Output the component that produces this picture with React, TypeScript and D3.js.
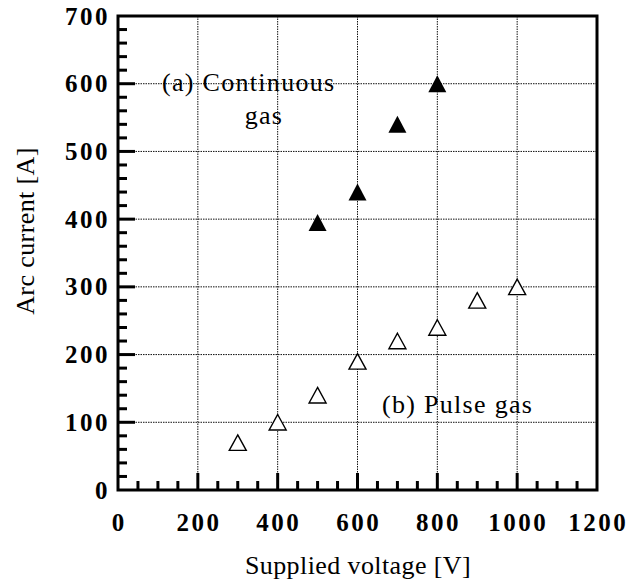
import React, { useEffect, useRef } from 'react';
import * as d3 from 'd3';

const xTicks = [0, 200, 400, 600, 800, 1000, 1200];
const yTicks = [0, 100, 200, 300, 400, 500, 600, 700];

const contVoltage = [500, 600, 700, 800];
const contCurrent = [395, 440, 540, 600];

const pulseVoltage = [300, 400, 500, 600, 700, 800, 900, 1000];
const pulseCurrent = [70, 100, 140, 190, 220, 240, 280, 300];

const App = () => {
  const chartRef = useRef<SVGSVGElement | null>(null);

  useEffect(() => {
    const W = 632;
    const H = 583;
    const margin = { top: 16, right: 35, bottom: 93, left: 118 };
    const width = W - margin.left - margin.right;
    const height = H - margin.top - margin.bottom;
    const font = '"Liberation Serif", "Times New Roman", serif';

    const svg = d3.select(chartRef.current);
    svg.selectAll('*').remove();
    svg.attr('width', W).attr('height', H);

    svg.append('rect').attr('width', W).attr('height', H).attr('fill', '#fff');

    const g = svg.append('g')
      .attr('transform', `translate(${margin.left}, ${margin.top})`);

    const x = d3.scaleLinear().domain([0, 1200]).range([0, width]);
    const y = d3.scaleLinear().domain([0, 700]).range([height, 0]);

    // dotted grid
    g.selectAll('.vgrid')
      .data(xTicks.slice(1, -1))
      .enter()
      .append('line')
      .attr('x1', d => x(d))
      .attr('x2', d => x(d))
      .attr('y1', 0)
      .attr('y2', height)
      .attr('stroke', '#111')
      .attr('stroke-width', 1)
      .attr('stroke-dasharray', '1.5,1');

    g.selectAll('.hgrid')
      .data(yTicks.slice(1, -1))
      .enter()
      .append('line')
      .attr('x1', 0)
      .attr('x2', width)
      .attr('y1', d => y(d))
      .attr('y2', d => y(d))
      .attr('stroke', '#111')
      .attr('stroke-width', 1)
      .attr('stroke-dasharray', '1.5,1');

    // inner ticks, minor every 50 V / 20 A
    const xMinor = d3.range(50, 1200, 50);
    g.selectAll('.xtick')
      .data(xMinor)
      .enter()
      .append('line')
      .attr('x1', d => x(d))
      .attr('x2', d => x(d))
      .attr('y1', height)
      .attr('y2', d => height - (d % 200 === 0 ? 17 : 9))
      .attr('stroke', '#000')
      .attr('stroke-width', 3);

    const yMinor = d3.range(20, 700, 20);
    g.selectAll('.ytick')
      .data(yMinor)
      .enter()
      .append('line')
      .attr('x1', 0)
      .attr('x2', d => (d % 100 === 0 ? 17 : 9))
      .attr('y1', d => y(d))
      .attr('y2', d => y(d))
      .attr('stroke', '#000')
      .attr('stroke-width', 3);

    // frame
    g.append('rect')
      .attr('width', width)
      .attr('height', height)
      .attr('fill', 'none')
      .attr('stroke', '#000')
      .attr('stroke-width', 3);

    // tick labels
    g.selectAll('.xlabel')
      .data(xTicks)
      .enter()
      .append('text')
      .attr('x', d => x(d) + 1.2)
      .attr('y', height + 41)
      .attr('text-anchor', 'middle')
      .attr('font-family', font)
      .attr('font-size', 25)
      .attr('font-weight', 'bold')
      .attr('letter-spacing', 2.5)
      .text(d => d);

    g.selectAll('.ylabel')
      .data(yTicks)
      .enter()
      .append('text')
      .attr('x', -8)
      .attr('y', d => y(d))
      .attr('dy', '0.34em')
      .attr('text-anchor', 'end')
      .attr('font-family', font)
      .attr('font-size', 25)
      .attr('font-weight', 'bold')
      .attr('letter-spacing', 2.5)
      .text(d => d);

    // triangles, bbox centred on the value
    const tri = (w: number, h: number) =>
      `M0,${-h / 2}L${w / 2},${h / 2}L${-w / 2},${h / 2}Z`;

    g.selectAll('.cont')
      .data(contVoltage)
      .enter()
      .append('path')
      .attr('d', tri(18, 17))
      .attr('transform', (d, i) => `translate(${x(d)}, ${y(contCurrent[i])})`)
      .attr('fill', '#000');

    g.selectAll('.pulse')
      .data(pulseVoltage)
      .enter()
      .append('path')
      .attr('d', tri(17, 15.5))
      .attr('transform', (d, i) => `translate(${x(d)}, ${y(pulseCurrent[i])})`)
      .attr('fill', '#fff')
      .attr('stroke', '#000')
      .attr('stroke-width', 1.4)
      .attr('stroke-linejoin', 'miter');

    // annotations
    const note = (tx: number, ty: number, s: string, anchor = 'start') =>
      svg.append('text')
        .attr('x', tx)
        .attr('y', ty)
        .attr('text-anchor', anchor)
        .attr('font-family', font)
        .attr('font-size', 26)
        .attr('letter-spacing', 1.3)
        .attr('fill', '#000')
        .text(s);

    note(162, 91, '(a) Continuous');
    note(264, 124, 'gas', 'middle');
    note(382, 413, '(b) Pulse gas');

    // axis titles
    svg.append('text')
      .attr('x', 358)
      .attr('y', 574)
      .attr('text-anchor', 'middle')
      .attr('font-family', font)
      .attr('font-size', 26)
      .attr('letter-spacing', 0.4)
      .text('Supplied voltage [V]');

    svg.append('text')
      .attr('transform', 'translate(34, 231) rotate(-90)')
      .attr('text-anchor', 'middle')
      .attr('font-family', font)
      .attr('font-size', 26)
      .attr('letter-spacing', 0.4)
      .text('Arc current [A]');
  }, []);

  return (
    <svg ref={chartRef} style={{ position: 'absolute', top: 0, left: 0, display: 'block' }}></svg>
  );
};

export default App;
